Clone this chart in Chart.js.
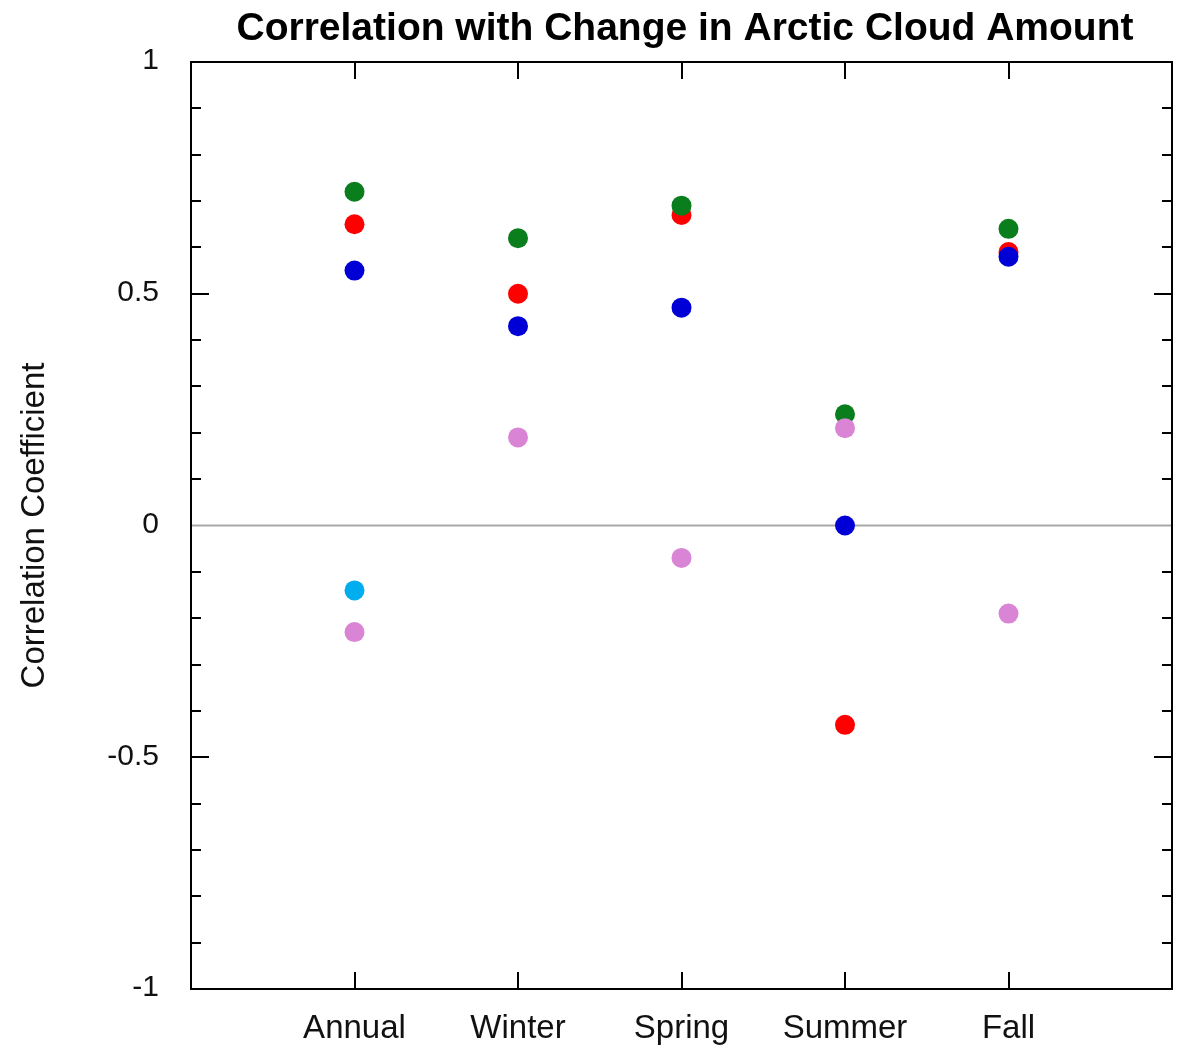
<!DOCTYPE html>
<html>
<head>
<meta charset="utf-8">
<script src="https://cdn.jsdelivr.net/npm/chart.js@4"></script>
<style>
  html, body { margin: 0; padding: 0; background: #fff; }
  #wrap { width: 1182px; height: 1052px; }
</style>
</head>
<body>
<div id="wrap"><canvas id="c"></canvas></div>
<script>
// seasons along the x axis, placed at 1..5
const seasons = ['Annual', 'Winter', 'Spring', 'Summer', 'Fall'];
const yTicks = [-1, -0.5, 0, 0.5, 1];

// correlation per season, one array per colour (null = not shown)
const redVals    = [0.65, 0.50, 0.67, -0.43, 0.59];
const greenVals  = [0.72, 0.62, 0.69, 0.24, 0.64];
const blueVals   = [0.55, 0.43, 0.47, 0.00, 0.58];
const cyanVals   = [-0.14, null, null, null, null];
const violetVals = [-0.23, 0.19, -0.07, 0.21, -0.19];

const FONT = '"Liberation Sans", Arial, Helvetica, sans-serif';

function pts(vals) {
  return vals.map((v, i) => v === null ? null : { x: i + 1, y: v }).filter(p => p);
}
function ds(vals, color) {
  return { data: pts(vals), backgroundColor: color, borderWidth: 0, pointRadius: 10, pointHoverRadius: 10 };
}

// frame, inward ticks, zero line and titles
const decor = {
  id: 'decor',
  beforeDatasetsDraw(chart) {
    const { ctx, chartArea: a, scales: { y } } = chart;
    ctx.save();
    ctx.strokeStyle = '#a8a8a8';
    ctx.lineWidth = 2;
    ctx.beginPath();
    ctx.moveTo(a.left, y.getPixelForValue(0));
    ctx.lineTo(a.right, y.getPixelForValue(0));
    ctx.stroke();
    ctx.restore();
  },
  afterDraw(chart) {
    const { ctx, chartArea: a, scales: { x, y } } = chart;
    ctx.save();
    ctx.strokeStyle = '#000';
    ctx.lineWidth = 2;
    ctx.strokeRect(a.left, a.top, a.right - a.left, a.bottom - a.top);
    ctx.beginPath();
    for (let i = -9; i <= 9; i++) {
      if (i === 0) continue;
      const py = Math.round(y.getPixelForValue(i / 10));
      const len = (i % 5 === 0) ? 18 : 10;
      ctx.moveTo(a.left, py); ctx.lineTo(a.left + len, py);
      ctx.moveTo(a.right, py); ctx.lineTo(a.right - len, py);
    }
    seasons.forEach((s, i) => {
      const px = Math.round(x.getPixelForValue(i + 1));
      ctx.moveTo(px, a.top); ctx.lineTo(px, a.top + 17);
      ctx.moveTo(px, a.bottom); ctx.lineTo(px, a.bottom - 17);
    });
    ctx.stroke();

    ctx.fillStyle = '#000';
    ctx.textAlign = 'center';
    ctx.textBaseline = 'middle';
    ctx.font = 'bold 39px ' + FONT;
    ctx.fillText('Correlation with Change in Arctic Cloud Amount', 685, 29);

    ctx.translate(35, (a.top + a.bottom) / 2);
    ctx.rotate(-Math.PI / 2);
    ctx.font = '33px ' + FONT;
    ctx.fillStyle = '#111';
    ctx.fillText('Correlation Coefficient', 0, 0);
    ctx.restore();
  }
};

new Chart(document.getElementById('c'), {
  type: 'scatter',
  data: {
    // first dataset is painted last (on top)
    datasets: [
      ds(violetVals, '#da84d6'),
      ds(cyanVals, '#00aeef'),
      ds(blueVals, '#0000d6'),
      ds(greenVals, '#0a7d1c'),
      ds(redVals, '#ff0000')
    ]
  },
  options: {
    responsive: true,
    maintainAspectRatio: false,
    animation: false,
    layout: { padding: { top: 62, right: 6, left: 0, bottom: 0 } },
    plugins: { legend: { display: false }, tooltip: { enabled: false } },
    scales: {
      x: {
        type: 'linear', min: 0, max: 6,
        afterBuildTicks: s => { s.ticks = seasons.map((_, i) => ({ value: i + 1 })); },
        afterFit: s => { s.height = 63; },
        grid: { display: false },
        border: { display: false },
        ticks: {
          callback: v => seasons[v - 1],
          color: '#111', font: { family: FONT, size: 33 }, padding: 12, maxRotation: 0
        }
      },
      y: {
        min: -1, max: 1,
        afterBuildTicks: s => { s.ticks = yTicks.map(v => ({ value: v })); },
        afterFit: s => { s.width = 191; },
        grid: { display: false },
        border: { display: false },
        ticks: {
          callback: v => String(v),
          color: '#111', font: { family: FONT, size: 30 }, padding: 24, labelOffset: -1
        }
      }
    }
  },
  plugins: [decor]
});
</script>
</body>
</html>
